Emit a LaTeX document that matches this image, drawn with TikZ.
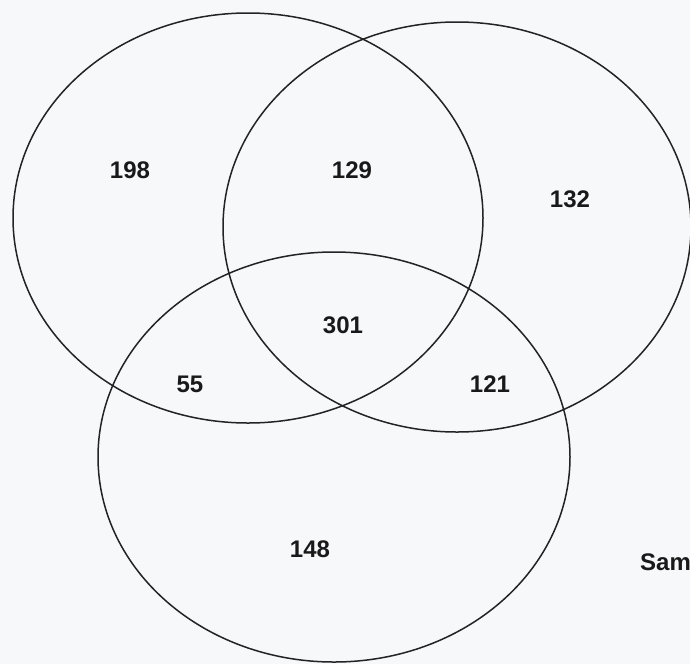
\documentclass[tikz,border=0pt]{standalone}
\usepackage{fontspec}
\setmainfont{Liberation Sans}
\definecolor{bg}{RGB}{247,248,250}
\definecolor{ln}{RGB}{35,35,35}
\begin{document}
\begin{tikzpicture}[x=1pt,y=-1pt,
  setline/.style={draw=ln,line width=1.5pt},
  num/.style={font=\bfseries\fontsize{24}{28}\selectfont,text=black!90,inner sep=0pt}]
\fill[bg] (0,0) rectangle (690,664);
\useasboundingbox (0,0) rectangle (690,664);
\draw[setline] (248,218) ellipse [x radius=235, y radius=205];
\draw[setline] (457,227) ellipse [x radius=234, y radius=205];
\draw[setline] (334,457) ellipse [x radius=236, y radius=205];
\node[num] (a) at (130,170) {198};
\node[num] (b) at (352,170) {129};
\node[num] (c) at (570,199) {132};
\node[num] (d) at (343,325) {301};
\node[num] (e) at (190,384) {55};
\node[num] (f) at (490,384) {121};
\node[num] (g) at (310,549) {148};
\node[num,anchor=west] (h) at (640,562) {Sam};
\end{tikzpicture}
\end{document}
